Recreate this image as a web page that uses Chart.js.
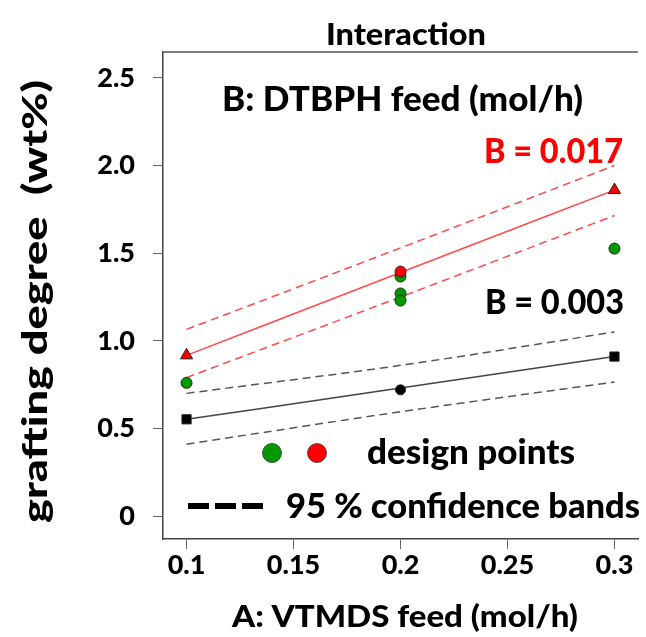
<!DOCTYPE html>
<html><head><meta charset="utf-8">
<script src="https://cdn.jsdelivr.net/npm/chart.js@4"></script>
<style>html,body{margin:0;padding:0;background:#fff}#wrap{width:646px;height:637px}</style>
</head><body><div id="wrap"><canvas id="c" width="646" height="637"></canvas></div>
<script>
// ---- data ----
const xTicks = [0.1, 0.15, 0.2, 0.25, 0.3];
const xTickLabels = ['0.1', '0.15', '0.2', '0.25', '0.3'];
const yTicks = [0, 0.5, 1.0, 1.5, 2.0, 2.5];
const yTickLabels = ['0', '0.5', '1.0', '1.5', '2.0', '2.5'];
const feedA = [0.1, 0.2, 0.3];
const fitHigh = [0.917, 1.39, 1.86];
const upperHigh = [1.065, 1.53, 2.0];
const lowerHigh = [0.79, 1.25, 1.715];
const fitLow = [0.552, 0.73, 0.91];
const upperLow = [0.70, 0.86, 1.05];
const lowerLow = [0.41, 0.595, 0.765];
const greenX = [0.1, 0.2, 0.2, 0.2, 0.3];
const greenY = [0.76, 1.367, 1.27, 1.23, 1.526];
const redX = [0.2];
const redY = [1.395];
const blackX = [0.2];
const blackY = [0.72];

const pts = (xs, ys) => xs.map((x, i) => ({x, y: ys[i]}));
const ends = (ys) => [{x: feedA[0], y: ys[0]}, {x: feedA[feedA.length-1], y: ys[ys.length-1]}];
const F = 'Lato, "Open Sans", sans-serif';
const W = '900';

const RED = '#ff4a4a';
const line = (data, color, dash, width, order) => ({
  data, showLine: true, borderColor: color, borderWidth: width, borderDash: dash, pointRadius: 0,
  fill: false, tension: 0.35, order, cubicInterpolationMode: 'monotone'
});
const marks = (data, style, bg, r, order) => ({
  data, showLine: false, pointStyle: style, pointRadius: r, pointBackgroundColor: bg,
  pointBorderColor: '#222', pointBorderWidth: 1, order
});

// draw heavy text from a left anchor, stretched to a given length
function txt(ctx, s, x, y, size, w, color, rot) {
  ctx.save();
  ctx.font = W + ' ' + size + 'px ' + F;
  ctx.fillStyle = color;
  ctx.textAlign = 'left';
  ctx.textBaseline = 'middle';
  const nw = ctx.measureText(s).width;
  ctx.translate(x, y);
  if (rot) ctx.rotate(rot);
  ctx.scale(w / nw, 1);
  ctx.fillText(s, 0, 0);
  ctx.restore();
}

const textPlugin = {
  id: 'texts',
  afterDraw(chart) {
    const ctx = chart.ctx;
    const ca = chart.chartArea;
    ctx.save();
    ctx.strokeStyle = '#555'; ctx.lineWidth = 1.5;
    ctx.beginPath(); ctx.moveTo(ca.left, ca.top); ctx.lineTo(ca.right, ca.top); ctx.stroke();
    ctx.restore();
    txt(ctx, 'Interaction', 326, 35, 31, 160, '#000');
    txt(ctx, 'B: DTBPH feed (mol/h)', 222, 100, 34, 361, '#000');
    txt(ctx, 'B = 0.017', 484, 152, 34, 139, '#ff0000');
    txt(ctx, 'B = 0.003', 485, 303, 34, 139, '#000');
    txt(ctx, 'design points', 367, 453, 34, 208, '#000');
    txt(ctx, '95 % confidence bands', 286, 507, 34, 354, '#000');
    txt(ctx, 'A: VTMDS feed (mol/h)', 232, 617, 31, 346, '#000');
    txt(ctx, 'grafting degree  (wt%)', 36, 523, 34, 443, '#000', -Math.PI / 2);
    ctx.save();
    [['#009900', 272], ['#ff0000', 317]].forEach(([c, x]) => {
      ctx.beginPath(); ctx.arc(x, 453, 9.5, 0, Math.PI * 2);
      ctx.fillStyle = c; ctx.fill(); ctx.strokeStyle = '#333'; ctx.lineWidth = 0.8; ctx.stroke();
    });
    ctx.strokeStyle = '#000'; ctx.lineWidth = 6; ctx.setLineDash([21, 6]);
    ctx.beginPath(); ctx.moveTo(188, 506); ctx.lineTo(263, 506); ctx.stroke();
    ctx.restore();
  }
};

new Chart(document.getElementById('c'), {
  type: 'scatter',
  data: {
    datasets: [
      line(pts(feedA, upperHigh), RED, [8, 5], 1.5, 10),
      line(pts(feedA, fitHigh), RED, [], 1.5, 10),
      line(pts(feedA, lowerHigh), RED, [8, 5], 1.5, 10),
      line(pts(feedA, upperLow), '#555', [8, 5], 1.5, 10),
      line(pts(feedA, fitLow), '#444', [], 1.5, 10),
      line(pts(feedA, lowerLow), '#555', [8, 5], 1.5, 10),
      marks(ends(fitHigh), 'triangle', '#ff0000', 7, 5),
      marks(ends(fitLow), 'rect', '#000', 6.5, 5),
      marks(pts(blackX, blackY), 'circle', '#000', 5, 5),
      marks(pts(greenX, greenY), 'circle', '#009900', 5.5, 4),
      marks(pts(redX, redY), 'circle', '#ff0000', 5.5, 1)
    ]
  },
  options: {
    responsive: false, animation: false, devicePixelRatio: 1,
    layout: {padding: {top: 52, right: 0, left: 0, bottom: 0}},
    plugins: {legend: {display: false}, tooltip: {enabled: false}, title: {display: false}},
    scales: {
      x: {
        type: 'linear', min: 0.089, max: 0.311,
        afterBuildTicks: s => { s.ticks = xTicks.map(v => ({value: v})); },
        afterFit: s => { s.height = 98; },
        ticks: {callback: (v) => xTickLabels[xTicks.indexOf(v)] ?? '', color: '#000',
          font: {family: F, size: 27, weight: W}, padding: 0, maxRotation: 0, autoSkip: false},
        grid: {drawOnChartArea: false, drawTicks: true, tickLength: 10, color: '#666', lineWidth: 1},
        border: {display: true, color: '#444', width: 1.5},
        title: {display: false}
      },
      y: {
        type: 'linear', min: -0.131, max: 2.648,
        afterBuildTicks: s => { s.ticks = yTicks.map(v => ({value: v})); },
        afterFit: s => { s.width = 163; },
        ticks: {callback: (v) => yTickLabels[yTicks.indexOf(v)] ?? '', color: '#000',
          font: {family: F, size: 27, weight: W}, padding: 18, autoSkip: false},
        grid: {drawOnChartArea: false, drawTicks: true, tickLength: 10, color: '#666', lineWidth: 1},
        border: {display: true, color: '#444', width: 1.5},
        title: {display: false}
      }
    }
  },
  plugins: [textPlugin]
});
</script></body></html>
